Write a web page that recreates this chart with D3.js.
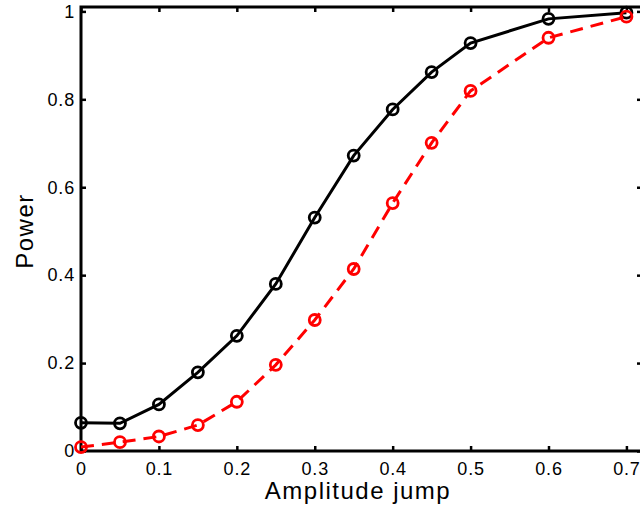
<!DOCTYPE html>
<html>
<head>
<meta charset="utf-8">
<script src="https://cdn.jsdelivr.net/npm/d3@7"></script>
<style>
  body { margin: 0; background: #fff; }
  text { font-family: "Liberation Sans", Arial, sans-serif; }
</style>
</head>
<body>
<script>
const svgWidth = 640
const svgHeight = 509

const amplitude = [0, 0.05, 0.1, 0.15, 0.2, 0.25, 0.3, 0.35, 0.4, 0.45, 0.5, 0.6, 0.7]
const powerBlack = [0.064, 0.063, 0.106, 0.179, 0.262, 0.38, 0.531, 0.672, 0.777, 0.862, 0.928, 0.983, 0.997]
const powerRed = [0.009, 0.02, 0.033, 0.059, 0.112, 0.196, 0.298, 0.414, 0.564, 0.701, 0.819, 0.94, 0.988]
const xTicks = [0, 0.1, 0.2, 0.3, 0.4, 0.5, 0.6, 0.7]
const yTicks = [0, 0.2, 0.4, 0.6, 0.8, 1]

const plot = { left: 81, right: 642, top: 7, bottom: 451 }

const svg = d3.select("body").append("svg")
    .attr("width", svgWidth)
    .attr("height", svgHeight)

const x = d3.scaleLinear().domain([0, 0.72]).range([plot.left, plot.right])
const y = d3.scaleLinear().domain([0, 1.01]).range([plot.bottom, plot.top])

const tickLen = 5

// axes with inward ticks on all four sides
function styleAxis(g) {
    g.select(".domain").remove()
    g.selectAll(".tick line").attr("stroke", "#000").attr("stroke-width", 2.5)
    g.selectAll(".tick text").attr("fill", "#000")
        .style("font-size", "18px")
        .style("letter-spacing", "0.8px")
}

svg.append("g")
    .attr("transform", `translate(0, ${plot.bottom})`)
    .call(d3.axisBottom(x).tickValues(xTicks).tickFormat(d3.format("")).tickSizeInner(-tickLen).tickSizeOuter(0).tickPadding(11))
    .call(styleAxis)

svg.append("g")
    .attr("transform", `translate(0, ${plot.top})`)
    .call(d3.axisTop(x).tickValues(xTicks).tickFormat("").tickSizeInner(-tickLen).tickSizeOuter(0))
    .call(styleAxis)

svg.append("g")
    .attr("transform", `translate(${plot.left}, 0)`)
    .call(d3.axisLeft(y).tickValues(yTicks).tickFormat(d3.format("")).tickSizeInner(-tickLen).tickSizeOuter(0).tickPadding(6))
    .call(styleAxis)

svg.append("g")
    .attr("transform", `translate(${plot.right}, 0)`)
    .call(d3.axisRight(y).tickValues(yTicks).tickFormat("").tickSizeInner(-tickLen).tickSizeOuter(0))
    .call(styleAxis)

svg.append("rect")
    .attr("x", plot.left)
    .attr("y", plot.top)
    .attr("width", plot.right - plot.left)
    .attr("height", plot.bottom - plot.top)
    .attr("fill", "none")
    .attr("stroke", "#000")
    .attr("stroke-width", 3)

const line = d3.line()
    .x(d => x(d[0]))
    .y(d => y(d[1]))

const series = [
    { values: powerBlack, color: "#000", dash: null },
    { values: powerRed, color: "#ff0000", dash: "13,8" }
]

series.forEach(s => {
    const pts = amplitude.map((a, i) => [a, s.values[i]])
    svg.append("path")
        .attr("d", line(pts))
        .attr("fill", "none")
        .attr("stroke", s.color)
        .attr("stroke-width", 3)
        .attr("stroke-dasharray", s.dash)

    svg.append("g").selectAll("circle")
        .data(pts)
        .enter()
        .append("circle")
        .attr("cx", d => x(d[0]))
        .attr("cy", d => y(d[1]))
        .attr("r", 5.5)
        .attr("fill", "none")
        .attr("stroke", s.color)
        .attr("stroke-width", 2.8)
})

svg.append("text")
    .attr("x", 358)
    .attr("y", 499)
    .attr("text-anchor", "middle")
    .style("font-size", "24px")
    .style("letter-spacing", "1.5px")
    .text("Amplitude jump")

svg.append("text")
    .attr("transform", `translate(33, 231) rotate(-90)`)
    .attr("text-anchor", "middle")
    .style("font-size", "24px")
    .style("letter-spacing", "1.5px")
    .text("Power")
</script>
</body>
</html>
